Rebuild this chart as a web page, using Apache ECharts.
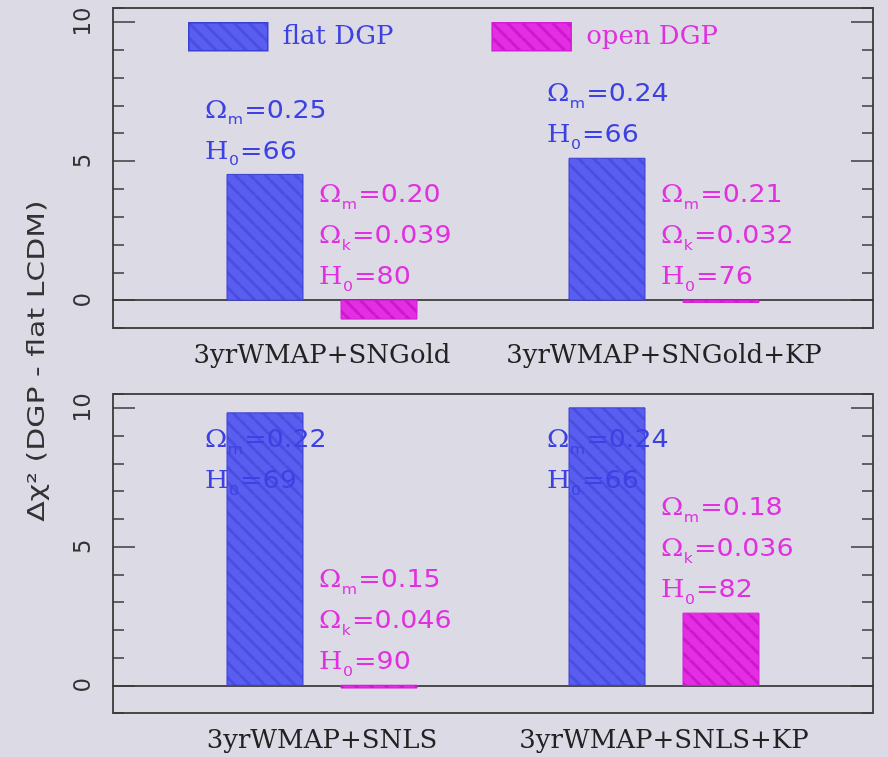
<!DOCTYPE html>
<html>
<head>
<meta charset="utf-8">
<script src="https://cdn.jsdelivr.net/npm/echarts@6/dist/echarts.min.js"></script>
<style>
  html, body { margin: 0; padding: 0; background: #dcdbe5; }
  #chart { width: 888px; height: 757px; }
</style>
</head>
<body>
<div id="chart"></div>
<script>
// Δχ² of the DGP fits relative to flat LCDM, one panel per supernova sample
const topCategories = ['3yrWMAP+SNGold', '3yrWMAP+SNGold+KP'];
const bottomCategories = ['3yrWMAP+SNLS', '3yrWMAP+SNLS+KP'];
const seriesNames = ['flat DGP', 'open DGP'];

const flatTop = [4.52, 5.1];
const openTop = [-0.68, -0.08];
const flatBottom = [9.82, 10.0];
const openBottom = [-0.1, 2.6];

// best-fit parameters printed next to each bar
const flatTopOmegaM = ['0.25', '0.24'];
const flatTopH0 = ['66', '66'];
const openTopOmegaM = ['0.20', '0.21'];
const openTopOmegaK = ['0.039', '0.032'];
const openTopH0 = ['80', '76'];
const flatBottomOmegaM = ['0.22', '0.24'];
const flatBottomH0 = ['69', '66'];
const openBottomOmegaM = ['0.15', '0.18'];
const openBottomOmegaK = ['0.046', '0.036'];
const openBottomH0 = ['90', '82'];

const yTickLabels = [0, 5, 10];

// ---- layout / style ----
const GROUP_CENTER = [2.75, 7.25];   // x position of each data combination (x axis runs 0..10)
const BAR_OFFSET = [-0.75, 0.75];    // flat bar left of centre, open bar right
const BAR_WIDTH = 1;
const Y_MIN = -1, Y_MAX = 10.5;
const LINE_GAP = 41;                 // px between label lines
const LABEL_TOP_LIMIT = 8.8;         // label blocks never start above this value
const TEXT_SCALE_X = 1.12;

const STYLE = [
  { base: '#5a5ef0', stripe: '#4a4ee0', border: '#3a3ed2', text: '#3d41e2' },
  { base: '#e42ee4', stripe: '#cc18cc', border: '#d41cd4', text: '#e030e0' }
];

function hatch(base, stripe) {
  const s = 15;
  const c = document.createElement('canvas');
  c.width = s; c.height = s;
  const g = c.getContext('2d');
  g.fillStyle = base;
  g.fillRect(0, 0, s, s);
  g.strokeStyle = stripe;
  g.lineWidth = 3;
  // "\" diagonal with wrapped copies so the tile repeats seamlessly
  for (const d of [-s, 0, s]) {
    g.beginPath(); g.moveTo(d, 0); g.lineTo(d + s, s); g.stroke();
  }
  return { image: c, repeat: 'repeat' };
}
const PATTERN = STYLE.map(s => hatch(s.base, s.stripe));

const measureCtx = document.createElement('canvas').getContext('2d');
function textWidth(text, font) { measureCtx.font = font; return measureCtx.measureText(text).width; }

const FONT_SYM = '24px "DejaVu Serif"';
const FONT_MAIN = '24px "DejaVu Sans"';
const FONT_SUB = '14px "DejaVu Sans"';

// one label line: symbol, subscript, "=value"
function labelLine(parts, x, y, color) {
  const [sym, sub, rest] = parts;
  const wSym = textWidth(sym, FONT_SYM);
  const wSub = textWidth(sub, FONT_SUB);
  const txt = (t, font, tx, ty) => ({
    type: 'text', x: tx, y: ty,
    style: { text: t, font: font, fill: color, align: 'left', verticalAlign: 'middle',
             textAlign: 'left', textVerticalAlign: 'middle' }
  });
  return {
    type: 'group', x: x, y: y, scaleX: TEXT_SCALE_X,
    children: [
      txt(sym, FONT_SYM, 0, 0),
      txt(sub, FONT_SUB, wSym + 0.5, 9),
      txt(rest, FONT_MAIN, wSym + wSub + 1.5, 0)
    ]
  };
}

function makeRenderer(kind, linesFor) {
  const st = STYLE[kind];
  return function (params, api) {
    const gi = api.value(0);
    const v = api.value(1);
    const xc = GROUP_CENTER[gi] + BAR_OFFSET[kind];
    const pA = api.coord([xc - BAR_WIDTH / 2, v]);
    const pB = api.coord([xc + BAR_WIDTH / 2, 0]);
    const top = Math.min(pA[1], pB[1]);
    const h = Math.max(Math.abs(pB[1] - pA[1]), 2);
    const children = [{
      type: 'rect',
      shape: { x: pA[0], y: top, width: pB[0] - pA[0], height: h },
      style: { fill: PATTERN[kind], stroke: st.border, lineWidth: 1 }
    }];
    const lines = linesFor(gi);
    const baseY = api.coord([xc, Math.max(v, 0)])[1] - 22;
    let topY = baseY - (lines.length - 1) * LINE_GAP;
    const limit = api.coord([xc, LABEL_TOP_LIMIT])[1];
    if (topY < limit) topY = limit;
    const lx = pA[0] - 22;
    lines.forEach((parts, i) => children.push(labelLine(parts, lx, topY + i * LINE_GAP, st.text)));
    return { type: 'group', children: children };
  };
}

const panels = [
  {
    cats: topCategories,
    flat: flatTop, open: openTop,
    flatLines: i => [['Ω', 'm', '=' + flatTopOmegaM[i]], ['H', '0', '=' + flatTopH0[i]]],
    openLines: i => [['Ω', 'm', '=' + openTopOmegaM[i]], ['Ω', 'k', '=' + openTopOmegaK[i]], ['H', '0', '=' + openTopH0[i]]]
  },
  {
    cats: bottomCategories,
    flat: flatBottom, open: openBottom,
    flatLines: i => [['Ω', 'm', '=' + flatBottomOmegaM[i]], ['H', '0', '=' + flatBottomH0[i]]],
    openLines: i => [['Ω', 'm', '=' + openBottomOmegaM[i]], ['Ω', 'k', '=' + openBottomOmegaK[i]], ['H', '0', '=' + openBottomH0[i]]]
  }
];

const grids = [
  { left: 113, top: 8, width: 760, height: 320 },
  { left: 113, top: 394, width: 760, height: 319 }
].map(g => Object.assign(g, { show: true, borderColor: '#4a4a4a', borderWidth: 2, backgroundColor: 'transparent' }));

const TICK_COLOR = '#3a3a3a';
const xAxes = [], yAxes = [], series = [];

panels.forEach((p, gi) => {
  // zero line
  xAxes.push({
    gridIndex: gi, type: 'value', min: 0, max: 10,
    axisLine: { show: true, onZero: true, lineStyle: { color: '#1e1e1e', width: 1.5 } },
    axisTick: { show: false }, axisLabel: { show: false }, splitLine: { show: false }
  });
  // category names under the frame
  xAxes.push({
    gridIndex: gi, type: 'value', min: 0, max: 10, position: 'bottom',
    axisLine: { show: false, onZero: false }, axisTick: { show: false }, splitLine: { show: false },
    axisLabel: {
      customValues: GROUP_CENTER,
      formatter: v => p.cats[GROUP_CENTER.indexOf(v)],
      fontFamily: 'DejaVu Serif', fontSize: 26, color: '#222', margin: 15
    }
  });
  const yBase = { gridIndex: gi, type: 'value', min: Y_MIN, max: Y_MAX,
                  axisLine: { show: false }, splitLine: { show: false } };
  const minor = side => Object.assign({}, yBase, {
    position: side, interval: 1,
    axisTick: { show: true, inside: true, length: 11, lineStyle: { color: TICK_COLOR, width: 1.5 } },
    axisLabel: { show: false }
  });
  const major = (side, labels) => Object.assign({}, yBase, {
    position: side,
    axisTick: { show: true, inside: true, length: 22, customValues: yTickLabels,
                lineStyle: { color: TICK_COLOR, width: 1.5 } },
    axisLabel: labels ? {
      show: true, customValues: yTickLabels, rotate: 90, margin: 17,
      fontFamily: 'DejaVu Sans', fontSize: 23, color: '#333'
    } : { show: false }
  });
  yAxes.push(minor('left'), major('left', true), minor('right'), major('right', false));

  [[p.flat, p.flatLines], [p.open, p.openLines]].forEach(([vals, linesFor], kind) => {
    series.push({
      type: 'custom',
      name: seriesNames[kind],
      xAxisIndex: gi * 2,
      yAxisIndex: gi * 4,
      clip: false,
      itemStyle: { color: PATTERN[kind], borderColor: STYLE[kind].border },
      encode: { x: 0, y: 1 },
      data: vals.map((v, i) => [i, v]),
      renderItem: makeRenderer(kind, linesFor)
    });
  });
});

const chart = echarts.init(document.getElementById('chart'), null, { renderer: 'canvas' });
chart.setOption({
  backgroundColor: '#dcdbe5',
  animation: false,
  grid: grids,
  xAxis: xAxes,
  yAxis: yAxes,
  series: series,
  legend: {
    left: 183, top: 17,
    itemWidth: 79, itemHeight: 28, itemGap: 98,
    selectedMode: false,
    icon: 'rect',
    textStyle: { fontFamily: 'DejaVu Serif', fontSize: 26, padding: [8, 0, 0, 10] },
    data: seriesNames.map((n, k) => ({
      name: n,
      itemStyle: { color: PATTERN[k], borderColor: STYLE[k].border, borderWidth: 1.5 },
      textStyle: { color: STYLE[k].text }
    }))
  },
  graphic: [{
    type: 'text', x: 38, y: 361, rotation: Math.PI / 2, scaleX: 1.3,
    style: {
      text: 'Δχ² (DGP - flat LCDM)', font: '23px "DejaVu Sans"', fill: '#333',
      align: 'center', verticalAlign: 'middle', textAlign: 'center', textVerticalAlign: 'middle'
    }
  }]
});
</script>
</body>
</html>
